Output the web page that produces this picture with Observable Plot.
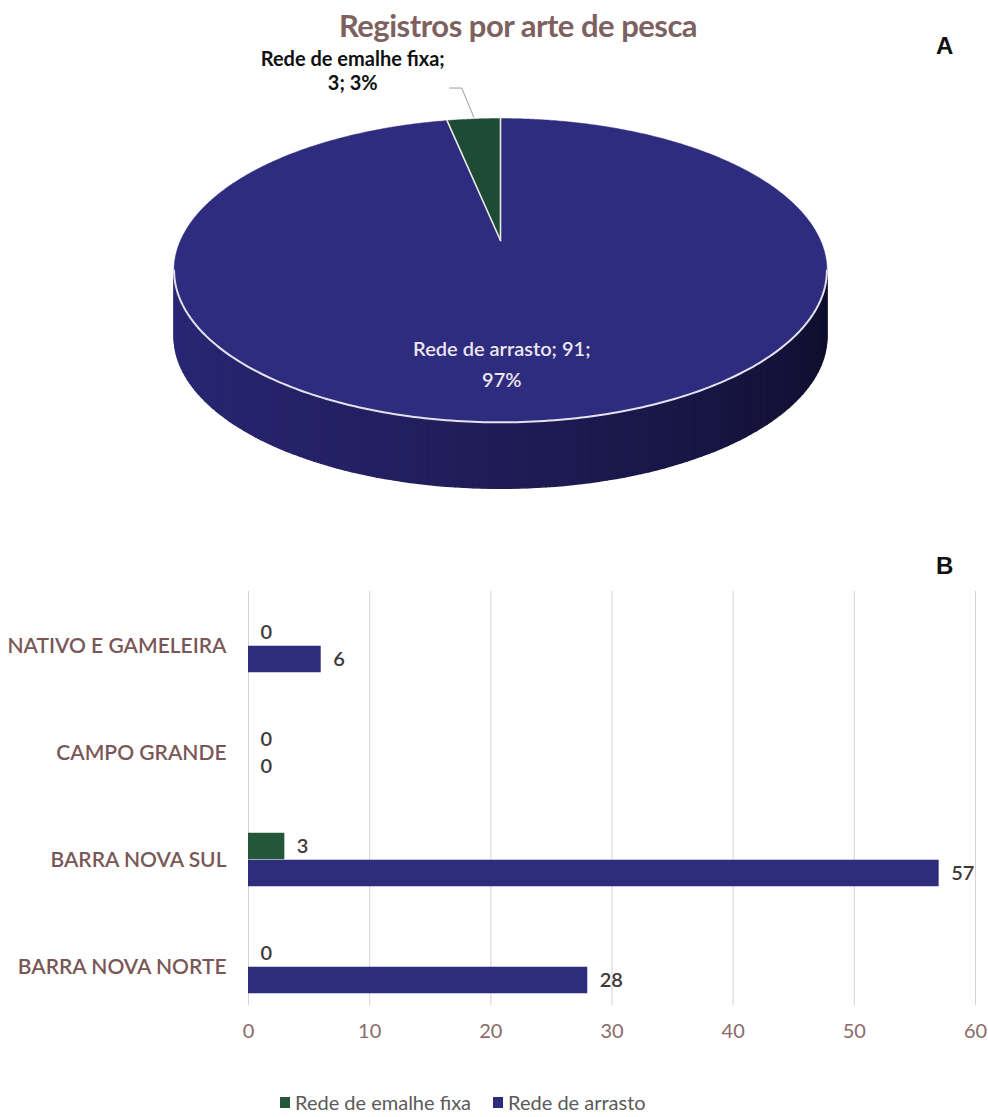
<!DOCTYPE html>
<html>
<head>
<meta charset="utf-8">
<script src="https://cdn.jsdelivr.net/npm/d3@7"></script>
<script src="https://cdn.jsdelivr.net/npm/@observablehq/plot@0.6"></script>
<style>
  body { margin: 0; background: #fff; }
  #page { position: relative; width: 988px; height: 1117px; overflow: hidden; font-family: Lato, "Open Sans", sans-serif; }
  .abs { position: absolute; }
  #title { left: 0; width: 1036px; top: 7px; line-height: 36px; text-align: center; font-size: 31px; font-weight: 700; color: #7d6161; letter-spacing: -0.5px; }
  .panel { font-family: "Liberation Sans", Arial, sans-serif; font-weight: 700; font-size: 24px; color: #111; }
  #legend { top: 1090px; left: 280px; display: flex; align-items: center; font-size: 20px; color: #5a5a5a; }
  .sw { display: inline-block; width: 10px; height: 11px; margin-right: 5px; }
</style>
</head>
<body>
<div id="page">
  <div id="title" class="abs">Registros por arte de pesca</div>
  <div class="abs panel" style="left:936px;top:32px;">A</div>
  <div class="abs panel" style="left:936px;top:552px;">B</div>
  <div id="pie" class="abs" style="left:0;top:0;"></div>
  <div id="bars" class="abs" style="left:0;top:570px;"></div>
  <div id="legend" class="abs"></div>
</div>
<script>
// ---------- data ----------
const gearNames = ["Rede de arrasto", "Rede de emalhe fixa"];
const gearTotals = [91, 3];
const locations = ["NATIVO E GAMELEIRA", "CAMPO GRANDE", "BARRA NOVA SUL", "BARRA NOVA NORTE"];
const emalheByLocation = [0, 0, 3, 0];
const arrastoByLocation = [6, 0, 57, 28];
const xTicks = [0, 10, 20, 30, 40, 50, 60];
const legendNames = ["Rede de emalhe fixa", "Rede de arrasto"];

// ---------- colours ----------
const blueTop = "#2e2c7e";
const greenTop = "#1e4b34";
const sliceColors = [blueTop, greenTop];
const sideRamp = d3.interpolateRgbBasis(["#2a2877", "#26236c", "#1f1d58", "#15133c", "#0f0d2c"]);
const barGreen = "#24563a";
const barBlue = "#2e2d7c";

// ---------- 3D pie (perspective projection of a unit disc) ----------
const k = 0.197;            // perspective factor
const depth = 66 / 146;     // side height in y-units
function P(t, r = 1) {
  const d = 1 + k * r * Math.sin(t);
  return [r * Math.cos(t) / d, r * Math.sin(t) / d];
}
const toT = a => Math.PI / 2 - a;   // d3.pie angle (clockwise from 12h) -> math angle
const arcs = d3.pie().sort(null).value(d => d)(gearTotals);
const total = d3.sum(gearTotals);

const topRows = [];
arcs.forEach((a, i) => {
  topRows.push({slice: i, u: 0, v: 0, color: sliceColors[i]});
  const n = Math.max(4, Math.ceil((a.endAngle - a.startAngle) / (Math.PI / 360)));
  for (let j = 0; j <= n; j++) {
    const [u, v] = P(toT(a.startAngle + (a.endAngle - a.startAngle) * j / n));
    topRows.push({slice: i, u, v, color: sliceColors[i]});
  }
});

const tL = Math.PI + Math.asin(k), tR = 2 * Math.PI - Math.asin(k);
const NS = 120;
const sideRows = [];
for (let j = 0; j < NS; j++) {
  const t0 = tL + (tR - tL) * j / NS, t1 = tL + (tR - tL) * (j + 1) / NS;
  const [u0, v0] = P(t0), [u1, v1] = P(t1);
  const c = sideRamp((j + 0.5) / NS);
  sideRows.push({seg: j, u: u0, v: v0, color: c}, {seg: j, u: u1, v: v1, color: c},
                {seg: j, u: u1, v: v1 - depth, color: c}, {seg: j, u: u0, v: v0 - depth, color: c});
}
const rimRows = d3.range(0, 201).map(j => { const [u, v] = P(tL + (tR - tL) * j / 200); return {u, v}; });
const edgeRows = [];
arcs.forEach((a, i) => {
  const [u, v] = P(toT(a.startAngle));
  edgeRows.push({e: i, u: 0, v: 0}, {e: i, u, v});
});

// label anchors
const aE = arcs[1], aA = arcs[0];
const [eu, ev] = P(toT((aE.startAngle + aE.endAngle) / 2), 1.0);
const pct = v => Math.round(v / total * 100) + "%";
const leader = [
  {u: eu, v: ev + 2 / 146},
  {u: eu - 12 / 320, v: ev + 31 / 146},
  {u: eu - 24 / 320, v: ev + 31 / 146}
];
const [au, av] = P(toT((aA.startAngle + aA.endAngle) / 2), 0.73);

const pie = Plot.plot({
  width: 988, height: 520, margin: 0,
  x: {domain: [-1, 1], range: [180, 820], axis: null},
  y: {domain: [-1, 1], range: [386, 94], axis: null},
  color: {type: "identity"},
  marks: [
    Plot.line(sideRows, {x: "u", y: "v", z: "seg", fill: "color", stroke: "color", strokeWidth: 1.4, curve: "linear-closed"}),
    Plot.line(topRows, {x: "u", y: "v", z: "slice", fill: "color", stroke: "color", strokeWidth: 0.5, curve: "linear-closed"}),
    Plot.line(rimRows, {x: "u", y: "v", stroke: "#e4e2ee", strokeWidth: 2}),
    Plot.line(edgeRows, {x: "u", y: "v", z: "e", stroke: "#e8eae4", strokeWidth: 1.6}),
    Plot.line(leader, {x: "u", y: "v", stroke: "#9a9a9a", strokeWidth: 1}),
    Plot.text([{u: eu, v: ev}], {x: "u", y: "v", text: () => gearNames[1] + ";", dx: -121, dy: -59,
      fontSize: 20, fontWeight: 700, fill: "#111", fontFamily: "Lato"}),
    Plot.text([{u: eu, v: ev}], {x: "u", y: "v", text: () => gearTotals[1] + "; " + pct(gearTotals[1]), dx: -121, dy: -35,
      fontSize: 20, fontWeight: 700, fill: "#111", fontFamily: "Lato"}),
    Plot.text([{u: au, v: av}], {x: "u", y: "v", text: () => gearNames[0] + "; " + gearTotals[0] + ";", dx: -26, dy: -15,
      fontSize: 20, fontWeight: 600, fill: "#ece6ee", fontFamily: "Lato"}),
    Plot.text([{u: au, v: av}], {x: "u", y: "v", text: () => pct(gearTotals[0]), dx: -26, dy: 16,
      fontSize: 20, fontWeight: 600, fill: "#ece6ee", fontFamily: "Lato"})
  ]
});
document.getElementById("pie").appendChild(pie);

// ---------- bar chart ----------
const emalheRows = locations.map((loc, i) => ({location: loc, value: emalheByLocation[i]}));
const arrastoRows = locations.map((loc, i) => ({location: loc, value: arrastoByLocation[i]}));
const step = 107.5, barH = 27;
const bars = Plot.plot({
  width: 988, height: 480,
  marginLeft: 248, marginRight: 13, marginTop: 21, marginBottom: 29,
  style: {fontFamily: "Lato, sans-serif", background: "transparent"},
  x: {domain: [0, 60]},
  y: {domain: locations, padding: 0},
  marks: [
    Plot.ruleX(xTicks, {stroke: "#dccfcf", strokeWidth: 1, insetBottom: 16}),
    Plot.barX(emalheRows, {y: "location", x: "value", fill: barGreen, insetTop: step / 2 - barH, insetBottom: step / 2}),
    Plot.barX(arrastoRows, {y: "location", x: "value", fill: barBlue, insetTop: step / 2, insetBottom: step / 2 - barH}),
    Plot.text(emalheRows, {y: "location", x: "value", text: d => String(d.value), dx: 12, dy: -barH / 2,
      textAnchor: "start", fontSize: 20, fontWeight: 600, fill: "#3e3838"}),
    Plot.text(arrastoRows, {y: "location", x: "value", text: d => String(d.value), dx: 12, dy: barH / 2,
      textAnchor: "start", fontSize: 20, fontWeight: 600, fill: "#3e3838"}),
    Plot.axisX({ticks: xTicks, tickSize: 0, tickPadding: 2, fontSize: 20, color: "#8a6a6a", label: null}),
    Plot.axisY({tickSize: 0, tickPadding: 22, fontSize: 21, fontWeight: 600, color: "#7a5757", label: null})
  ]
});
document.getElementById("bars").appendChild(bars);

// ---------- legend ----------
const legendColors = [barGreen, barBlue];
const legend = document.getElementById("legend");
legendNames.forEach((name, i) => {
  const item = document.createElement("span");
  item.style.display = "inline-flex";
  item.style.alignItems = "center";
  item.style.marginRight = "22px";
  item.innerHTML = `<span class="sw" style="background:${legendColors[i]}"></span>${name}`;
  legend.appendChild(item);
});
</script>
</body>
</html>
